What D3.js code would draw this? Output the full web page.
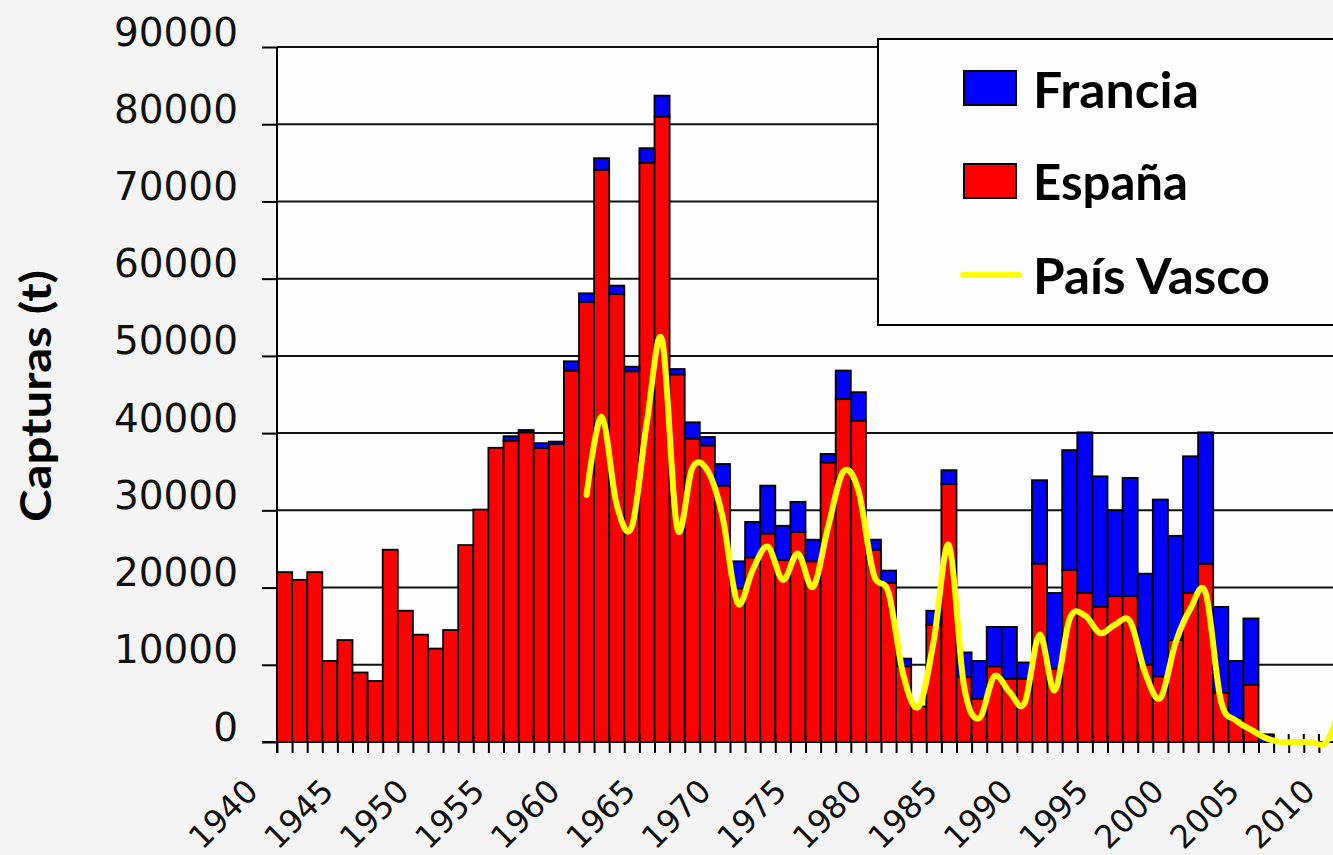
<!DOCTYPE html>
<html>
<head>
<meta charset="utf-8">
<script src="https://cdn.jsdelivr.net/npm/d3@7"></script>
<style>
  html, body { margin: 0; padding: 0; background: #f4f4f4; }
  svg { display: block; }
</style>
</head>
<body>
<svg id="chart" width="1333" height="855"></svg>
<script>
// ---------------- DATA ----------------
const years = [1940,1941,1942,1943,1944,1945,1946,1947,1948,1949,
               1950,1951,1952,1953,1954,1955,1956,1957,1958,1959,
               1960,1961,1962,1963,1964,1965,1966,1967,1968,1969,
               1970,1971,1972,1973,1974,1975,1976,1977,1978,1979,
               1980,1981,1982,1983,1984,1985,1986,1987,1988,1989,
               1990,1991,1992,1993,1994,1995,1996,1997,1998,1999,
               2000,2001,2002,2003,2004,2005,2006,2007,2008,2009,
               2010];

const espana = [22000,21000,22000,10500,13200,9000,7900,24900,17000,13900,
                12100,14500,25500,30100,38100,39000,40100,38100,38600,48100,
                57000,74100,58000,48000,75000,81000,47600,39300,38400,33200,
                19900,23900,27000,23600,27200,23400,36200,44400,41600,24900,
                20600,9800,4600,15200,33400,8400,5600,9800,8200,8200,
                23100,9500,22300,19300,17500,18900,18900,10000,8500,13200,
                19300,23100,6400,3100,7400,0,0,0,0,0,
                7000];

const francia = [0,0,0,0,0,0,0,0,0,0,
                 0,0,0,0,0,600,300,600,300,1200,
                 1100,1500,1100,600,1900,2700,700,2100,1100,2800,
                 3500,4600,6200,4400,3900,2800,1100,3700,3700,1300,
                 1600,1000,0,1800,1800,3200,4900,5100,6700,2100,
                 10800,9800,15500,20800,16900,11100,15300,11800,22900,13500,
                 17700,17000,11100,7400,8600,1000,0,0,0,0,
                 0];

const paisVasco = [null,null,null,null,null,null,null,null,null,null,
                   null,null,null,null,null,null,null,null,null,null,
                   32000,42100,30700,27900,41500,52100,27700,35500,35200,29200,
                   18000,22300,25300,21000,24400,20100,27900,35000,32600,21800,
                   19300,8500,4600,13200,25500,7200,3100,8500,6500,5000,
                   13900,6700,16000,16400,14100,15200,15600,8900,5700,12800,
                   17300,19300,5400,2800,1600,500,0,0,0,0,
                   5000];

const yTicks = [0,10000,20000,30000,40000,50000,60000,70000,80000,90000];
const xLabelYears = [1940,1945,1950,1955,1960,1965,1970,1975,1980,1985,1990,1995,2000,2005,2010];

const seriesNames = ["Francia", "España", "País Vasco"];
const colors = { "Francia": "#0000ff", "España": "#ff0000", "País Vasco": "#ffff00" };

// ---------------- LAYOUT ----------------
const svg = d3.select("#chart");
const W = 1333, H = 855;
const plotLeft = 277, plotRight = 1333, plotTop = 47, plotBottom = 742;
const step = 15.1;

const x = d3.scaleBand().domain(years).range([plotLeft, plotLeft + step * years.length]).padding(0);
const xLin = d3.scaleLinear().domain([1940, 1940 + years.length]).range([plotLeft, plotLeft + step * years.length]);
const y = d3.scaleLinear().domain([0, 90000]).range([plotBottom, plotTop]);

// plot area background
svg.append("rect")
  .attr("x", plotLeft).attr("y", plotTop)
  .attr("width", plotRight - plotLeft).attr("height", plotBottom - plotTop)
  .attr("fill", "#fdfdfd");

// gridlines
svg.append("g")
  .selectAll("line")
  .data(yTicks.filter(d => d > 0))
  .join("line")
  .attr("x1", plotLeft).attr("x2", W + 10)
  .attr("y1", d => y(d)).attr("y2", d => y(d))
  .attr("stroke", "#111").attr("stroke-width", 2);

// stacked data
const rows = years.map((yr, i) => ({ year: yr, "España": espana[i], "Francia": francia[i] }));
const stack = d3.stack().keys(["España", "Francia"]);
const stacked = stack(rows);

const barG = svg.append("g");
stacked.forEach(layer => {
  barG.append("g")
    .selectAll("rect")
    .data(layer.filter(d => d[1] - d[0] > 0))
    .join("rect")
    .attr("x", d => x(d.data.year))
    .attr("width", x.bandwidth())
    .attr("y", d => y(d[1]))
    .attr("height", d => y(d[0]) - y(d[1]))
    .attr("fill", colors[layer.key])
    .attr("stroke", "#000")
    .attr("stroke-width", 1.8);
});

// Y axis
const yAxis = svg.append("g")
  .attr("transform", `translate(${plotLeft},0)`)
  .call(d3.axisLeft(y).tickValues(yTicks).tickSize(15).tickFormat(d3.format("d")));
yAxis.select(".domain").attr("stroke", "#000").attr("stroke-width", 2)
  .attr("d", `M0,${plotTop}V${plotBottom + 11}`);
yAxis.selectAll(".tick line").attr("stroke", "#000").attr("stroke-width", 2);
yAxis.selectAll(".tick text")
  .attr("x", -39).attr("dy", "-2")
  .attr("text-anchor", "end")
  .style("font-family", "'DejaVu Sans', Verdana, sans-serif")
  .style("font-size", "39px")
  .attr("fill", "#111");

// X axis: boundary ticks (down) with labels
const xAxis = svg.append("g")
  .attr("transform", `translate(0,${plotBottom})`)
  .call(d3.axisBottom(xLin).tickValues(years).tickSize(11)
        .tickFormat(d => xLabelYears.includes(d) ? String(d) : ""));
xAxis.select(".domain").attr("stroke", "#000").attr("stroke-width", 2)
  .attr("d", `M${plotLeft - 15},0H${W + 10}`);
xAxis.selectAll(".tick line").attr("stroke", "#000").attr("stroke-width", 2);
xAxis.selectAll(".tick text")
  .attr("x", 0).attr("y", 0).attr("dy", "0.35em")
  .attr("text-anchor", "middle")
  .attr("transform", "translate(-54.3,72) rotate(-45)")
  .style("font-family", "'DejaVu Sans', Verdana, sans-serif")
  .style("font-size", "32px")
  .attr("fill", "#111");

// X axis: centre ticks (up, inside)
const xAxis2 = svg.append("g")
  .attr("transform", `translate(${x.bandwidth() / 2},${plotBottom})`)
  .call(d3.axisBottom(x).tickSize(-8).tickFormat(""));
xAxis2.select(".domain").remove();
xAxis2.selectAll(".tick line").attr("stroke", "#000").attr("stroke-width", 2);

// País Vasco line
const lineData = years.map((yr, i) => ({ year: yr, v: paisVasco[i] })).filter(d => d.v !== null);
const line = d3.line()
  .x(d => x(d.year) + x.bandwidth() / 2)
  .y(d => y(d.v))
  .curve(d3.curveCardinal.tension(0));
svg.append("path")
  .datum(lineData)
  .attr("d", line)
  .attr("fill", "none")
  .attr("stroke", colors["País Vasco"])
  .attr("stroke-width", 6)
  .attr("stroke-linecap", "round")
  .attr("stroke-linejoin", "round");

// Y axis title
svg.append("text")
  .attr("transform", "translate(51,396) rotate(-90)")
  .attr("text-anchor", "middle")
  .attr("textLength", 252)
  .attr("lengthAdjust", "spacingAndGlyphs")
  .style("font-family", "Lato, 'DejaVu Sans', sans-serif")
  .style("font-weight", "bold")
  .style("font-size", "42px")
  .attr("fill", "#000")
  .text("Capturas (t)");

// Legend
const lg = svg.append("g");
lg.append("rect")
  .attr("x", 878).attr("y", 39).attr("width", 480).attr("height", 286)
  .attr("fill", "#fefefe").attr("stroke", "#000").attr("stroke-width", 2);

const legendItems = [
  { name: seriesNames[0], type: "rect", cy: 88, base: 108, len: 166 },
  { name: seriesNames[1], type: "rect", cy: 181, base: 200, len: 155 },
  { name: seriesNames[2], type: "line", cy: 275, base: 294, len: 237 }
];
legendItems.forEach(it => {
  if (it.type === "rect") {
    lg.append("rect")
      .attr("x", 964).attr("y", it.cy - 17).attr("width", 52).attr("height", 34)
      .attr("fill", colors[it.name]).attr("stroke", "#000").attr("stroke-width", 2);
  } else {
    lg.append("line")
      .attr("x1", 963).attr("x2", 1019).attr("y1", it.cy).attr("y2", it.cy)
      .attr("stroke", colors[it.name]).attr("stroke-width", 6)
      .attr("stroke-linecap", "round");
  }
  lg.append("text")
    .attr("x", 1033).attr("y", it.base)
    .attr("textLength", it.len)
    .attr("lengthAdjust", "spacingAndGlyphs")
    .style("font-family", "Lato, 'DejaVu Sans', sans-serif")
    .style("font-weight", "bold")
    .style("font-size", "50px")
    .attr("fill", "#000")
    .text(it.name);
});
</script>
</body>
</html>
